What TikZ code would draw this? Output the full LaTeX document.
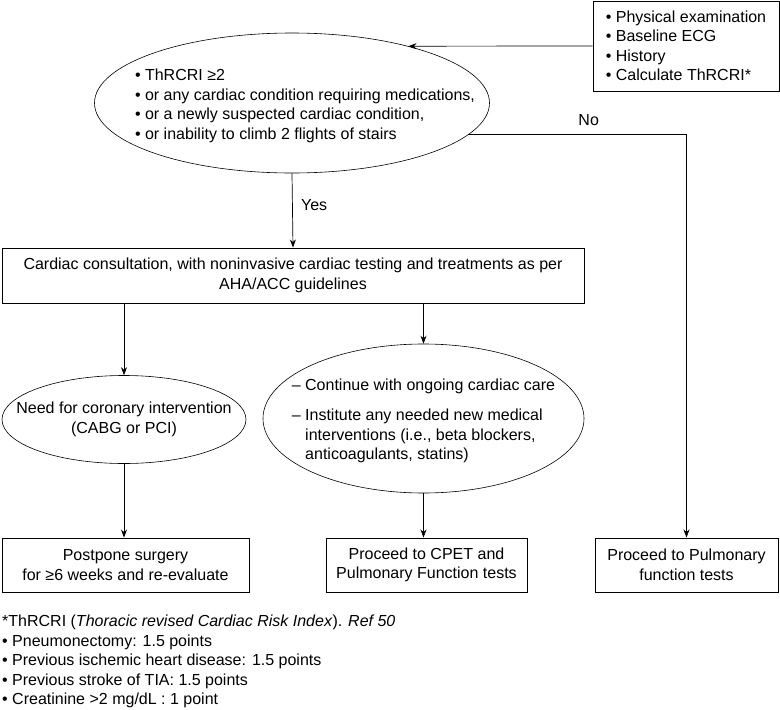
\documentclass[tikz,border=0pt]{standalone}
\usepackage{fontspec}
\setmainfont{Liberation Sans}
\usetikzlibrary{arrows.meta, positioning, shapes.geometric}

\begin{document}
\begin{tikzpicture}[x=1pt, y=-1pt, >={Stealth[length=8pt, width=6pt]},
    every node/.style={font=\fontsize{16}{19.5}\selectfont},
    box/.style={draw, line width=1pt, rectangle, align=center, inner sep=0pt},
    oval/.style={draw, line width=0.6pt, ellipse, inner sep=0pt},
    link/.style={line width=0.7pt, ->}]
    \useasboundingbox (0,0) rectangle (780,710);

    % Initial work-up
    \node[box, align=left, minimum width=186pt, minimum height=90pt] (exam) at (686,46)
        {• Physical examination\\• Baseline ECG\\• History\\• Calculate ThRCRI*};

    % Decision: cardiac risk
    \node[oval, minimum width=395pt, minimum height=140pt] (risk) at (292,103) {};
    \node[align=left] (risktext) at (305,106)
        {• ThRCRI ≥2\\• or any cardiac condition requiring medications,\\• or a newly suspected cardiac condition,\\• or inability to climb 2 flights of stairs};

    % Cardiac consultation
    \node[box, minimum width=582pt, minimum height=55pt] (consult) at (293,275.5)
        {Cardiac consultation, with noninvasive cardiac testing and treatments as per\\AHA/ACC guidelines};

    % Two outcomes of the consultation
    \node[oval, minimum width=244pt, minimum height=88pt] (coronary) at (124,419.5) {};
    \node[align=center] (coronarytext) at (124,419.5) {Need for coronary intervention\\(CABG or PCI)};
    \node[oval, minimum width=321pt, minimum height=149pt] (care) at (423.5,418.5) {};
    \node[align=left] (caretext) at (423.5,421)
        {– Continue with ongoing cardiac care\\[11pt]– Institute any needed new medical\\\hphantom{– }interventions (i.e., beta blockers,\\\hphantom{– }anticoagulants, statins)};

    % Final steps
    \node[box, minimum width=247pt, minimum height=54pt] (postpone) at (125.5,565)
        {Postpone surgery\\for ≥6 weeks and re-evaluate};
    \node[box, minimum width=201pt, minimum height=54pt] (cpet) at (426.5,565)
        {Proceed to CPET and\\Pulmonary Function tests};
    \node[box, minimum width=183pt, minimum height=54pt] (pft) at (686.5,565)
        {Proceed to Pulmonary\\function tests};

    % Connectors
    \draw[link] (exam.west) -- (risk.26);
    \draw[link] (risk.south) -- node[right=5pt, pos=0.43] {Yes} (consult.north);
    \draw[link] (risk.-10.6) -| node[above=5pt, pos=0.275] {No} (pft.north);
    \draw[link] (consult.south -| coronary.north) -- (coronary.north);
    \draw[link] (consult.south -| care.north) -- (care.north);
    \draw[link] (coronary.south) -- (coronary.south |- postpone.north);
    \draw[link] (care.south) -- (care.south |- cpet.north);

    % Footnote
    \node[anchor=north west, align=left, inner sep=0pt] (note) at (2,615)
        {*ThRCRI (\textit{Thoracic revised Cardiac Risk Index}). \textit{Ref 50}\\• Pneumonectomy: 1.5 points\\• Previous ischemic heart disease: 1.5 points\\• Previous stroke of TIA: 1.5 points\\• Creatinine >2 mg/dL : 1 point};
\end{tikzpicture}
\end{document}
